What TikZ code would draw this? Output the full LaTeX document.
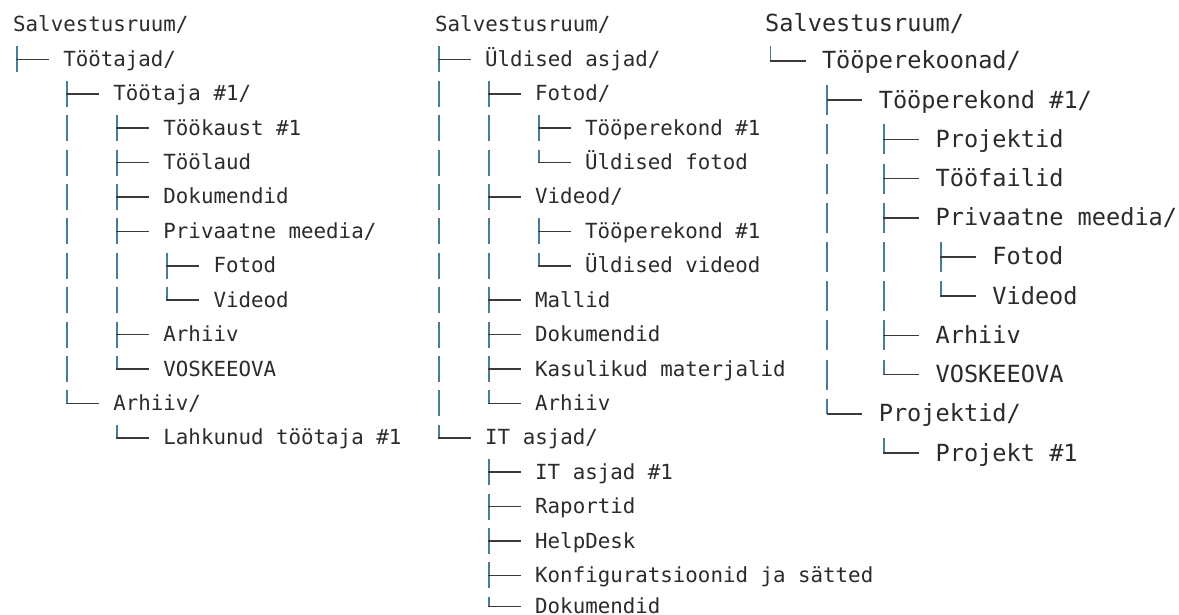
\documentclass[tikz,border=0pt]{standalone}
\usepackage{fontspec}
\setmonofont{DejaVu Sans Mono}
\usetikzlibrary{calc}
\definecolor{txt}{HTML}{2B2B2B}
\definecolor{vblue}{HTML}{467C9C}
\definecolor{hgray}{HTML}{3A3A3A}
% trunk: style, parent, last child, x offset, start dy, end dy
\newcommand\trunk[6]{\draw[#1] ($(#2.base west)+(#4,#5)$) -- ($(#2.base west |- #3.base)+(#4,#6)$);}
% twig: style, parent, child, x offset, dy, end dx
\newcommand\twig[6]{\draw[#1] ($(#2.base west |- #3.base)+(#4,#5)$) -- ($(#3.base west)+(#6,#5)$);}
\newcommand\twa[2]{\twig{hl}{#1}{#2}{3.2}{-7}{-14.5}}
\newcommand\twb[2]{\twig{hl}{#1}{#2}{4.7}{-8}{-16.2}}
\begin{document}
\begin{tikzpicture}[x=1pt,y=-1pt,
  ta/.style={anchor=base west,inner sep=0pt,text=txt,font=\ttfamily\fontsize{20.8}{25}\selectfont},
  tb/.style={anchor=base west,inner sep=0pt,text=txt,font=\ttfamily\fontsize{23.6}{28}\selectfont},
  vla/.style={draw=vblue,line width=1.6pt,dash pattern=on 26pt off 8.4pt},
  vlb/.style={draw=vblue,line width=1.7pt,dash pattern=on 30pt off 9.2pt},
  hl/.style={draw=hgray,line width=1.5pt}]
\useasboundingbox (0,0) rectangle (1179,615);
\fill[white] (0,0) rectangle (1179,615);
\clip (0,0) rectangle (1179,615);

% ---------- panel 1 ----------
\node[ta] (p1r) at (13,32) {Salvestusruum/};
\node[ta] (p1a) at (63.08,66.4) {Töötajad/};
\node[ta] (p1b) at (113.16,100.8) {Töötaja \#1/};
\node[ta] (p1c) at (163.24,135.2) {Töökaust \#1};
\node[ta] (p1d) at (163.24,169.6) {Töölaud};
\node[ta] (p1e) at (163.24,204) {Dokumendid};
\node[ta] (p1f) at (163.24,238.4) {Privaatne meedia/};
\node[ta] (p1g) at (213.32,272.8) {Fotod};
\node[ta] (p1h) at (213.32,307.2) {Videod};
\node[ta] (p1i) at (163.24,341.6) {Arhiiv};
\node[ta] (p1j) at (163.24,376) {VOSKEEOVA};
\node[ta] (p1k) at (113.16,410.4) {Arhiiv/};
\node[ta] (p1l) at (163.24,444.8) {Lahkunud töötaja \#1};

\trunk{vla}{p1r}{p1a}{4}{14.4}{6}
\trunk{vla}{p1a}{p1k}{4}{14.4}{-7}
\trunk{vla}{p1b}{p1j}{4}{14.4}{-7}
\trunk{vla}{p1f}{p1h}{4}{14.4}{-7}
\trunk{vla}{p1k}{p1l}{4}{14.4}{-7}
\twa{p1r}{p1a}
\twa{p1a}{p1b}\twa{p1a}{p1k}
\twa{p1b}{p1c}\twa{p1b}{p1d}\twa{p1b}{p1e}\twa{p1b}{p1f}\twa{p1b}{p1i}\twa{p1b}{p1j}
\twa{p1f}{p1g}\twa{p1f}{p1h}
\twa{p1k}{p1l}

% ---------- panel 2 ----------
\node[ta] (p2r) at (435,32) {Salvestusruum/};
\node[ta] (p2a) at (485,66.4) {Üldised asjad/};
\node[ta] (p2b) at (535,100.8) {Fotod/};
\node[ta] (p2c) at (585,135.2) {Tööperekond \#1};
\node[ta] (p2d) at (585,169.6) {Üldised fotod};
\node[ta] (p2e) at (535,204) {Videod/};
\node[ta] (p2f) at (585,238.4) {Tööperekond \#1};
\node[ta] (p2g) at (585,272.8) {Üldised videod};
\node[ta] (p2h) at (535,307.2) {Mallid};
\node[ta] (p2i) at (535,341.6) {Dokumendid};
\node[ta] (p2j) at (535,376) {Kasulikud materjalid};
\node[ta] (p2k) at (535,410.4) {Arhiiv};
\node[ta] (p2l) at (485,444.8) {IT asjad/};
\node[ta] (p2m) at (535,479.2) {IT asjad \#1};
\node[ta] (p2n) at (535,513.6) {Raportid};
\node[ta] (p2o) at (535,548) {HelpDesk};
\node[ta] (p2p) at (535,582.4) {Konfiguratsioonid ja sätted};
\node[ta] (p2q) at (535,613.6) {Dokumendid};

\trunk{vla}{p2r}{p2l}{4}{14.4}{-7}
\trunk{vla}{p2a}{p2k}{4}{14.4}{-7}
\trunk{vla}{p2b}{p2d}{4}{14.4}{-7}
\trunk{vla}{p2e}{p2g}{4}{14.4}{-7}
\trunk{vla}{p2l}{p2q}{4}{14.4}{-7}
\twa{p2r}{p2a}\twa{p2r}{p2l}
\twa{p2a}{p2b}\twa{p2a}{p2e}\twa{p2a}{p2h}\twa{p2a}{p2i}\twa{p2a}{p2j}\twa{p2a}{p2k}
\twa{p2b}{p2c}\twa{p2b}{p2d}
\twa{p2e}{p2f}\twa{p2e}{p2g}
\twa{p2l}{p2m}\twa{p2l}{p2n}\twa{p2l}{p2o}\twa{p2l}{p2p}\twa{p2l}{p2q}

% ---------- panel 3 ----------
\node[tb] (p3r) at (765,32) {Salvestusruum/};
\node[tb] (p3a) at (821.8,69) {Tööperekoonad/};
\node[tb] (p3b) at (878.6,108.2) {Tööperekond \#1/};
\node[tb] (p3c) at (935.4,147.4) {Projektid};
\node[tb] (p3d) at (935.4,186.6) {Tööfailid};
\node[tb] (p3e) at (935.4,225.8) {Privaatne meedia/};
\node[tb] (p3f) at (992.2,265) {Fotod};
\node[tb] (p3g) at (992.2,304.2) {Videod};
\node[tb] (p3h) at (935.4,343.4) {Arhiiv};
\node[tb] (p3i) at (935.4,382.6) {VOSKEEOVA};
\node[tb] (p3j) at (878.6,421.8) {Projektid/};
\node[tb] (p3k) at (935.4,461) {Projekt \#1};

\trunk{vlb}{p3r}{p3a}{5.5}{14}{-8}
\trunk{vlb}{p3a}{p3j}{5.5}{16.2}{-8}
\trunk{vlb}{p3b}{p3i}{5.5}{16.2}{-8}
\trunk{vlb}{p3e}{p3g}{5.5}{16.2}{-8}
\trunk{vlb}{p3j}{p3k}{5.5}{16.2}{-8}
\twb{p3r}{p3a}
\twb{p3a}{p3b}\twb{p3a}{p3j}
\twb{p3b}{p3c}\twb{p3b}{p3d}\twb{p3b}{p3e}\twb{p3b}{p3h}\twb{p3b}{p3i}
\twb{p3e}{p3f}\twb{p3e}{p3g}
\twb{p3j}{p3k}
\end{tikzpicture}
\end{document}
